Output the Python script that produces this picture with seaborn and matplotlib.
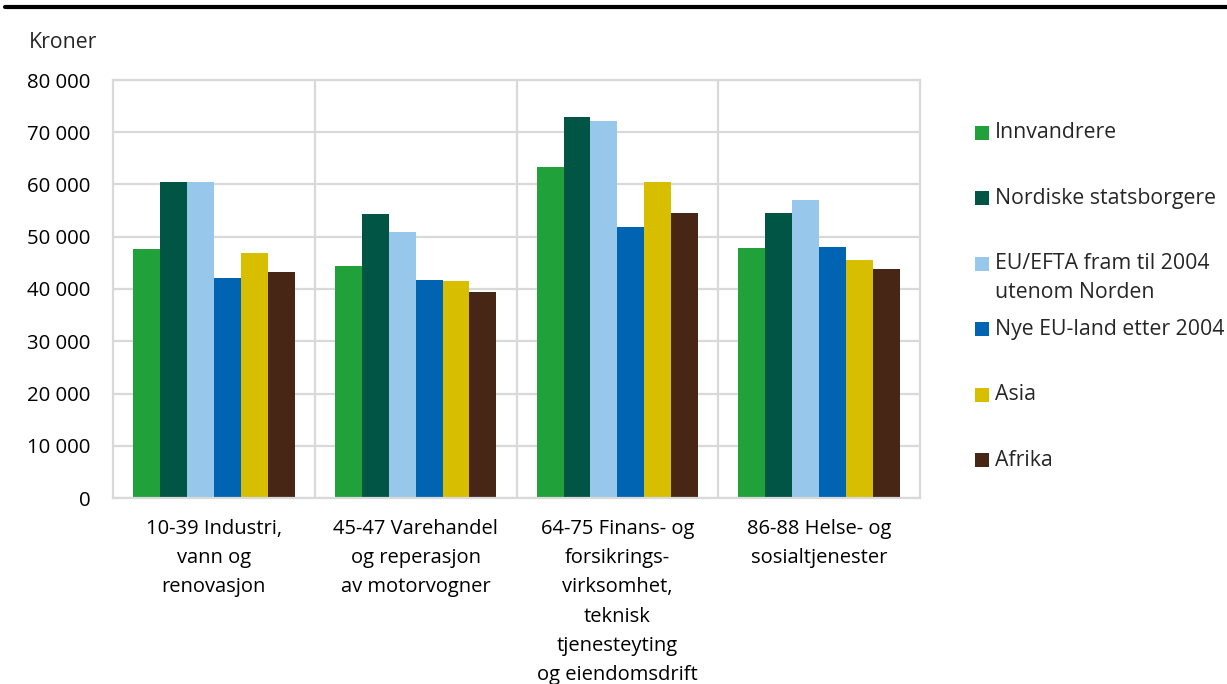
import matplotlib
matplotlib.use("Agg")
import matplotlib.pyplot as plt
from matplotlib.lines import Line2D
from matplotlib.patches import Rectangle
from matplotlib.ticker import FuncFormatter
import seaborn as sns
import pandas as pd

# data
industries = [
    "10-39 Industri,\nvann og\nrenovasjon",
    "45-47 Varehandel\nog reperasjon\nav motorvogner",
    "64-75 Finans- og\nforsikrings-\nvirksomhet,\nteknisk\ntjenesteyting\nog eiendomsdrift",
    "86-88 Helse- og\nsosialtjenester",
]
groups = [
    "Innvandrere",
    "Nordiske statsborgere",
    "EU/EFTA fram til 2004\nutenom Norden",
    "Nye EU-land etter 2004",
    "Asia",
    "Afrika",
]
innvandrere = [47600, 44400, 63300, 47800]
nordiske = [60500, 54400, 72900, 54500]
eu_efta = [60500, 51000, 72100, 57100]
nye_eu = [42200, 41800, 51800, 48100]
asia = [46800, 41600, 60400, 45500]
afrika = [43200, 39400, 54500, 43900]

colors = ["#21a13a", "#005545", "#97c8ec", "#0064b3", "#d7bf00", "#472615"]

series = [innvandrere, nordiske, eu_efta, nye_eu, asia, afrika]
rows = []
for grp, vals in zip(groups, series):
    for ind, v in zip(industries, vals):
        rows.append({"bransje": ind, "gruppe": grp, "kroner": v})
df = pd.DataFrame(rows)

sns.set_theme(style="white")
plt.rcParams["font.family"] = ["Open Sans", "DejaVu Sans"]

fig = plt.figure(figsize=(12.27, 6.84), dpi=100)
ax = fig.add_axes([113 / 1227, 1 - 498 / 684, (920 - 113) / 1227, (498 - 80) / 684])

grid_col = "#d9d9d9"
sns.barplot(
    data=df, x="bransje", y="kroner", hue="gruppe",
    order=industries, hue_order=groups, palette=colors, saturation=1,
    width=0.8, linewidth=0, ax=ax, legend=False,
)

ax.set_axisbelow(True)
ax.set_ylim(0, 80000)
ax.set_xlim(-0.5, len(industries) - 0.5)
ax.set_yticks(range(0, 80001, 10000))
ax.yaxis.set_major_formatter(FuncFormatter(lambda v, p: f"{int(v):,}".replace(",", " ")))
ax.grid(axis="y", color=grid_col, linewidth=1.6)
for x in [0.5, 1.5, 2.5]:
    ax.axvline(x, color=grid_col, linewidth=1.6, zorder=0)
for side in ["left", "right", "top", "bottom"]:
    ax.spines[side].set_color(grid_col)
    ax.spines[side].set_linewidth(1.6)
    ax.spines[side].set_visible(True)

ax.set_xlabel("")
ax.set_ylabel("")
ax.tick_params(axis="y", length=0, pad=16, labelsize=14.7, labelcolor="black")
ax.tick_params(axis="x", length=0, pad=15, labelsize=14.5, labelcolor="black")
for lab in ax.get_xticklabels():
    lab.set_linespacing(1.62)

fig.text(29 / 1227, 1 - 43 / 684, "Kroner", fontsize=15.3, va="center", ha="left")

# top rule
fig.add_artist(Line2D([5 / 1227, 1.0], [1 - 7 / 684] * 2, color="black", linewidth=3))

# legend drawn by hand so entries stay evenly spaced
for i, (grp, col) in enumerate(zip(groups, colors)):
    yc = 1 - (133 + i * 65.4) / 684
    fig.add_artist(Rectangle((975 / 1227, yc - 7 / 684), 14 / 1227, 14 / 684,
                             facecolor=col, edgecolor="none", transform=fig.transFigure))
    lines = grp.split("\n")
    for j, line in enumerate(lines):
        fig.text(995 / 1227, yc - j * 29 / 684, line, fontsize=15.3, va="center", ha="left")

fig.savefig("out.png", dpi=100)
